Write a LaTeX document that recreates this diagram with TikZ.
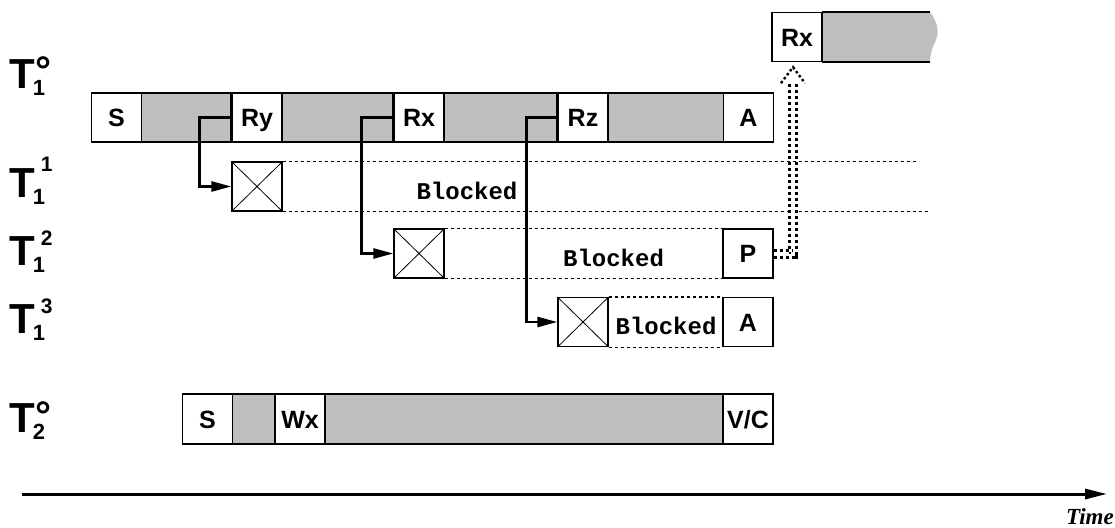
\documentclass[tikz,border=0pt]{standalone}
\usepackage{fontspec}
\setmainfont{Liberation Sans}
\newfontfamily\blockfont{Liberation Mono}
\newfontfamily\timefont{Liberation Serif}
\usetikzlibrary{arrows.meta}

% T with subscript under the arm and a raised superscript
\newcommand{\tlab}[3]{T\kern-2pt\rlap{\raisebox{-7pt}{\fontsize{22}{22}\selectfont #1}}\kern8pt\raisebox{#3}{\fontsize{21}{21}\selectfont #2}}
\newcommand{\tdeg}[1]{T\kern-2pt\rlap{\raisebox{-7pt}{\fontsize{22}{22}\selectfont #1}}\kern3pt\raisebox{3pt}{\fontsize{40}{40}\selectfont °}}

\begin{document}
\begin{tikzpicture}[
x=1pt, y=-1pt,
every node/.style={inner sep=0pt},
evt/.style={
draw,
fill=white,
line width=1.3pt,
minimum width=50pt,
minimum height=49pt,
text height=18pt,
text depth=0pt,
font=\bfseries\fontsize{25}{25}\selectfont
},
lock/.style={
evt,
path picture={
\draw[line width=0.8pt] (path picture bounding box.north west) -- (path picture bounding box.south east)
(path picture bounding box.south west) -- (path picture bounding box.north east);
}
},
bar/.style={draw, fill=gray!50, line width=1.3pt},
tname/.style={anchor=base west, font=\bfseries\fontsize{42}{42}\selectfont},
blk/.style={font=\blockfont\bfseries\fontsize{24}{24}\selectfont},
wait/.style={line width=1.3pt, dash pattern=on 3pt off 3pt},
edge/.style={line width=3pt},
call/.style={line width=2.6pt, -{Triangle[length=20pt,width=10pt]}},
relay/.style={double, double distance=4pt, line width=3pt, dash pattern=on 3pt off 3pt}
]
\useasboundingbox (0,0) rectangle (1115,527);

% row labels
\node[tname] (t10) at (9,88) {\tdeg{1}};
\node[tname] (t11) at (9,197) {\tlab{1}{1}{26pt}};
\node[tname] (t12) at (9,265) {\tlab{1}{2}{20pt}};
\node[tname] (t13) at (9,333) {\tlab{1}{3}{20pt}};
\node[tname] (t20) at (9,432) {\tdeg{2}};

% T1 main transaction
\draw[bar] (92,93) rectangle (773,142);
\node[evt] (S1) at (116.5,117.5) {S};
\node[evt] (Ry) at (257,117.5) {Ry};
\node[evt] (Rx) at (419,117.5) {Rx};
\node[evt] (Rz) at (583,117.5) {Rz};
\node[evt] (A1) at (748.5,117.5) {A};

\draw[edge] (Ry.north west) -- (Ry.south west);
\draw[edge] (Rx.north west) -- (Rx.south west);
\draw[edge] (Rz.north west) -- (Rz.south west);

% sub-transactions
\node[lock] (X1) at (257,186.5) {};
\node[lock] (X2) at (419,253.5) {};
\node[lock] (X3) at (583,322) {};
\node[evt] (P) at (748,253.5) {P};
\node[evt] (A2) at (748,322) {A};

\draw[wait] (X1.north east) -- ++(636,0);
\draw[wait] (X1.south east) -- ++(646,0);
\draw[wait] (X2.north east) -- (P.north west);
\draw[wait] (X2.south east) -- (P.south west);
\draw[wait] (X3.north east) -- (A2.north west);
\draw[wait] (X3.south east) -- (A2.south west);

\node[blk] (b1) at (467,191) {Blocked};
\node[blk] (b2) at (613.5,258) {Blocked};
\node[blk] (b3) at (666,326) {Blocked};

\draw[call] (Ry.west) -- ++(-32,0) |- (X1.west);
\draw[call] (Rx.west) -- ++(-32,0) |- (X2.west);
\draw[call] (Rz.west) -- ++(-31,0) |- (X3.west);

% resumed read
\fill[gray!50] (822,12) -- (930,12) .. controls (936,20) and (940,30) .. (936,40)
.. controls (932,48) and (930,55) .. (930,62) -- (822,62) -- cycle;
\draw[line width=1.3pt] (822,12) -- (930,12) (822,62) -- (930,62);
\node[evt] (Rx2) at (797,37) {Rx};

\draw[relay] (P.east) -| ([xshift=-4pt,yshift=-19pt]Rx2.south);
\draw[line width=2.4pt, dash pattern=on 2.5pt off 2.5pt] ([xshift=-16pt,yshift=-21pt]Rx2.south) -- ([xshift=-4pt,yshift=-5pt]Rx2.south) -- ([xshift=8pt,yshift=-21pt]Rx2.south);

% T2
\draw[bar] (183,394) rectangle (773,444);
\node[evt] (S2) at (207.5,419) {S};
\node[evt] (Wx) at (300,419) {Wx};
\node[evt] (VC) at (748,419) {V/C};

% time axis
\coordinate (t0) at (22,494);
\coordinate (t1) at (1107,494);
\draw[line width=3pt, -{Triangle[length=22pt,width=10pt]}] (t0) -- (t1);
\node[anchor=base east, font=\timefont\bfseries\itshape\fontsize{23}{23}\selectfont] (time) at (1114,524) {Time};

\end{tikzpicture}
\end{document}
